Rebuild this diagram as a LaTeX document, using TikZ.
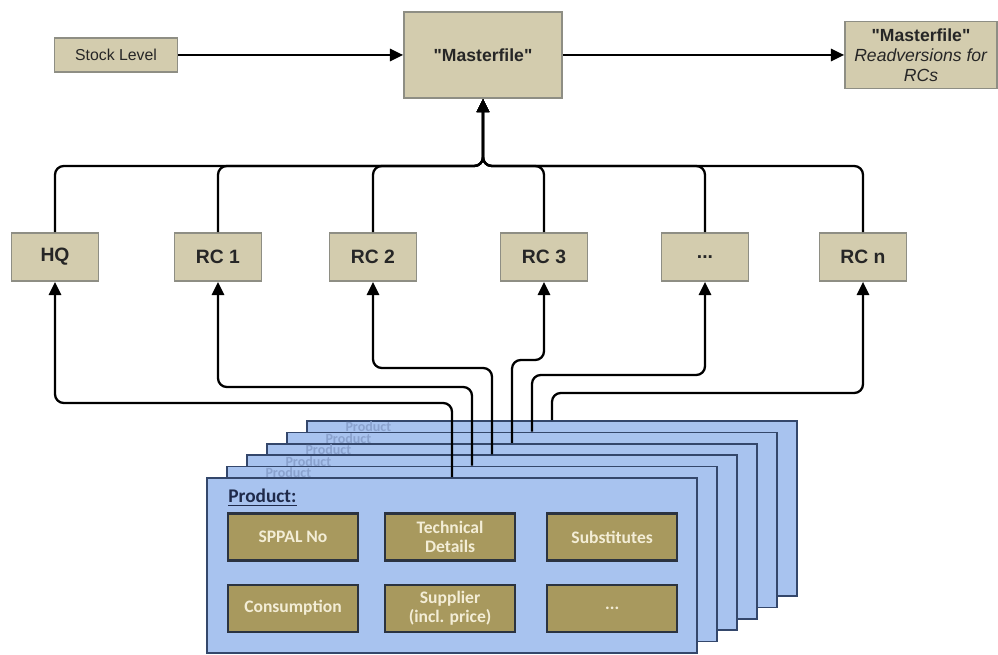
\documentclass[tikz,border=0pt]{standalone}
\usepackage{fontspec}
\setmainfont{Liberation Sans}
\newfontfamily\califont{Carlito}
\usetikzlibrary{positioning,arrows.meta}
\definecolor{tanfill}{HTML}{D3CCAE}
\definecolor{tanline}{HTML}{8E8E84}
\definecolor{olivefill}{HTML}{A8995E}
\definecolor{fieldline}{HTML}{2B3340}
\definecolor{fieldtext}{HTML}{F3EDD6}
\definecolor{cardfill}{HTML}{A8C3EF}
\definecolor{cardline}{HTML}{34476B}
\definecolor{ghosttext}{HTML}{8AA2CE}
\definecolor{labeltext}{HTML}{1F2A4A}
\tikzstyle{tanbox}=[draw=tanline,fill=tanfill,line width=1pt,text=black!85,align=center,inner sep=0pt]
\tikzstyle{rcbox}=[tanbox,minimum width=1.74cm,minimum height=0.96cm,font=\bfseries\fontsize{11}{13}\selectfont]
\tikzstyle{card}=[draw=cardline,fill=cardfill,line width=1pt,minimum width=9.8cm,minimum height=3.5cm,inner sep=0pt]
\tikzstyle{ghost}=[anchor=north west,text=ghosttext,font=\califont\bfseries\fontsize{8}{9}\selectfont,inner sep=0pt]
\tikzstyle{field}=[draw=fieldline,fill=olivefill,line width=1.2pt,minimum width=2.6cm,minimum height=0.94cm,text=fieldtext,align=center,font=\califont\bfseries\fontsize{10}{11}\selectfont]
\tikzstyle{link}=[line width=1.3pt,rounded corners=5pt,-{Triangle[length=7.5pt,width=7pt]}]

\begin{document}
\begin{tikzpicture}[x=0.02cm,y=-0.02cm]
  \useasboundingbox (0,0) rectangle (998,655);

  % top row
  \node[tanbox,minimum width=2.46cm,minimum height=0.68cm,font=\fontsize{9}{11}\selectfont] (stock) at (116,55) {Stock Level};
  \node[tanbox,minimum width=3.16cm,minimum height=1.72cm,font=\bfseries\fontsize{10}{12}\selectfont] (master) at (483,55) {\textquotedbl Masterfile\textquotedbl};
  \node[tanbox,minimum width=3.04cm,minimum height=1.34cm,font=\fontsize{10}{11.5}\selectfont] (readv) at (921,55) {\textbf{\textquotedbl Masterfile\textquotedbl}\\\textit{Readversions for}\\\textit{RCs}};
  \draw[link] (stock) -- (master);
  \draw[link] (master) -- (readv);

  % regional centres
  \node[rcbox] (hq) at (55,257) {HQ};
  \node[rcbox] (rc1) at (218,257) {RC 1};
  \node[rcbox] (rc2) at (373,257) {RC 2};
  \node[rcbox] (rc3) at (544,257) {RC 3};
  \node[rcbox] (rcdots) at (705,257) {...};
  \node[rcbox] (rcn) at (863,257) {RC n};

  \coordinate (bus) at (483,166);
  \draw[link] (hq.north) |- (bus) -- (master.south);
  \draw[link] (rc1.north) |- (bus) -- (master.south);
  \draw[link] (rc2.north) |- (bus) -- (master.south);
  \draw[link] (rc3.north) |- (bus) -- (master.south);
  \draw[link] (rcdots.north) |- (bus) -- (master.south);
  \draw[link] (rcn.north) |- (bus) -- (master.south);

  % stack of product cards, back to front
  \node[card] (card5) at (552,508.5) {};
  \node[ghost] (ghost5) at ([xshift=0.78cm,yshift=-0.03cm]card5.north west) {Product};
  \node[card] (card4) at (532,519.9) {};
  \node[ghost] (ghost4) at ([xshift=0.78cm,yshift=-0.03cm]card4.north west) {Product};
  \node[card] (card3) at (512,531.3) {};
  \node[ghost] (ghost3) at ([xshift=0.78cm,yshift=-0.03cm]card3.north west) {Product};
  \node[card] (card2) at (492,542.7) {};
  \node[ghost] (ghost2) at ([xshift=0.78cm,yshift=-0.03cm]card2.north west) {Product};
  \node[card] (card1) at (472,554.1) {};
  \node[ghost] (ghost1) at ([xshift=0.78cm,yshift=-0.03cm]card1.north west) {Product};
  \node[card] (card0) at (452,565.5) {};

  \node[anchor=west,inner sep=0pt,text=labeltext,font=\califont\bfseries\fontsize{11}{13}\selectfont] (prodlabel) at (228,498) {\underline{Product:}};
  \node[field] (sppal) at (293,537) {SPPAL No};
  \node[field,right=0.5cm of sppal] (tech) {Technical\\Details};
  \node[field,right=0.6cm of tech] (subst) {Substitutes};
  \node[field,below=0.44cm of sppal] (consum) {Consumption};
  \node[field,below=0.44cm of tech] (supplier) {Supplier\\(incl. price)};
  \node[field,below=0.44cm of subst] (fieldmore) {...};

  % product data out to the centres
  \draw[link] (card0.north) -- (card0.north |- 0,403) -| (hq.south);
  \draw[link] (card1.north) -- (card1.north |- 0,387) -| (rc1.south);
  \draw[link] (card2.north) -- (card2.north |- 0,368) -| (rc2.south);
  \draw[link] (card3.north) -- (card3.north |- 0,360) -| (rc3.south);
  \draw[link] (card4.north) -- (card4.north |- 0,375) -| (rcdots.south);
  \draw[link] (card5.north) -- (card5.north |- 0,393) -| (rcn.south);
\end{tikzpicture}
\end{document}
